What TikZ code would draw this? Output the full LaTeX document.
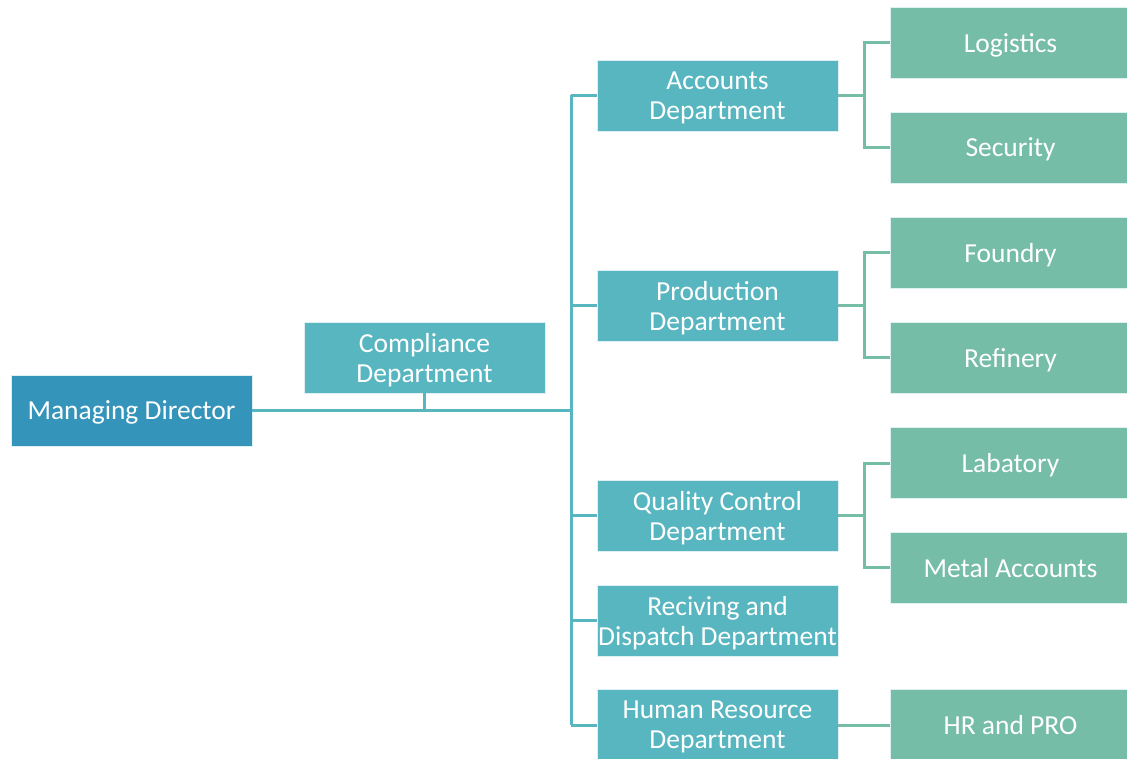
\documentclass[tikz,border=0pt]{standalone}
\usepackage{fontspec}
\setmainfont{Carlito}
\usetikzlibrary{calc,positioning}
\definecolor{mdblue}{HTML}{3494BA}
\definecolor{dept}{HTML}{58B6C0}
\definecolor{unit}{HTML}{75BDA7}
\begin{document}
\begin{tikzpicture}[x=1pt,y=-1pt,
box/.style={draw=white!80!dept, line width=0.6pt, text=white, align=center,
  minimum width=241pt, minimum height=71pt, inner sep=0pt, text depth=0pt,
  font=\fontsize{27.5}{30}\selectfont},
top/.style={box, fill=mdblue},
dep/.style={box, fill=dept},
sub/.style={box, fill=unit},
lnk/.style={draw=dept, line width=3pt},
sublnk/.style={draw=unit, line width=3pt}]
\useasboundingbox (0,0) rectangle (1127,759);
\begin{scope}
\clip (0,0) rectangle (1127,759);
\node[top] (md) at (131.5,410.5) {Managing Director};
\node[dep] (comp) at (424.5,357.5) {Compliance\\Department};
\node[dep] (acc) at (717.5,95.5) {Accounts\\Department};
\node[dep] (prod) at (717.5,305.5) {Production\\Department};
\node[dep] (qc) at (717.5,515.5) {Quality Control\\Department};
\node[dep] (rd) at (717.5,620.5) {Reciving and\\Dispatch Department};
\node[dep] (hr) at (717.5,725) {Human Resource\\Department};
\node[sub] (log) at (1010.5,42.5) {Logistics};
\node[sub] (sec) at (1010.5,147.5) {Security};
\node[sub] (fou) at (1010.5,252.5) {Foundry};
\node[sub] (ref) at (1010.5,357.5) {Refinery};
\node[sub] (lab) at (1010.5,463) {Labatory};
\node[sub] (met) at (1010.5,567.5) {Metal Accounts};
\node[sub] (hrp) at (1010.5,725) {HR and PRO};
\end{scope}
\coordinate (bus) at (571,410.5);
\draw[lnk] (md.east) -- (bus);
\draw[lnk] (comp.south) -- (comp.south |- bus);
\draw[lnk] (bus |- acc) -- (bus |- hr);
\foreach \d in {acc,prod,qc,rd,hr}
    \draw[lnk] (bus |- \d) -- (\d.west);
\foreach \d/\a/\b in {acc/log/sec,prod/fou/ref,qc/lab/met} {
    \draw[sublnk] (\d.east) -- ([xshift=26pt]\d.east);
    \draw[sublnk] ([xshift=26pt]\d.east) |- (\a.west);
    \draw[sublnk] ([xshift=26pt]\d.east) |- (\b.west);
}
\draw[sublnk] (hr.east) -- (hrp.west);
\end{tikzpicture}
\end{document}
